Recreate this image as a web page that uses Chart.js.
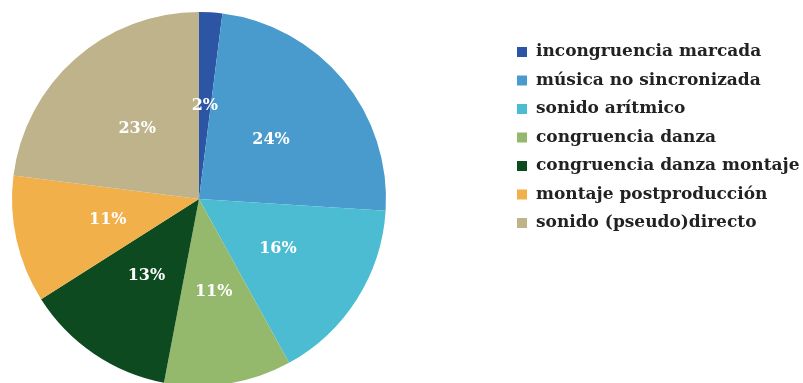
<!DOCTYPE html>
<html>
<head>
<meta charset="utf-8">
<script src="https://cdn.jsdelivr.net/npm/chart.js@4/dist/chart.umd.min.js"></script>
<style>
  html, body { margin: 0; padding: 0; background: #fff; overflow: hidden; }
  #wrap { width: 803px; height: 392px; }
</style>
</head>
<body>
<div id="wrap"><canvas id="pieChart"></canvas></div>
<script>
// categorías y porcentajes
const categories = [
    'incongruencia marcada',
    'música no sincronizada',
    'sonido arítmico',
    'congruencia danza',
    'congruencia danza montaje',
    'montaje postproducción',
    'sonido (pseudo)directo'
];
const percentages = [2, 24, 16, 11, 13, 11, 23];
const sliceColors = ['#2c55a6', '#4a9bcd', '#4bbcd2', '#95b96c', '#0e4a20', '#f2b04b', '#beb38a'];

const serif = '"DejaVu Serif", "Liberation Serif", serif';

// etiquetas de porcentaje dentro de cada sector
const sliceLabels = {
    id: 'sliceLabels',
    afterDatasetsDraw(chart) {
        const c = chart.ctx;
        const meta = chart.getDatasetMeta(0);
        c.save();
        c.font = 'bold 16px ' + serif;
        c.fillStyle = '#ffffff';
        c.textAlign = 'center';
        c.textBaseline = 'middle';
        meta.data.forEach((arc, i) => {
            const p = arc.tooltipPosition();
            c.fillText(percentages[i] + '%', p.x, p.y);
        });
        c.restore();
    }
};

// leyenda a la derecha, con los elementos que genera Chart.js
const sideLegend = {
    id: 'sideLegend',
    afterDraw(chart) {
        const c = chart.ctx;
        const items = chart.options.plugins.legend.labels.generateLabels(chart);
        c.save();
        c.font = 'bold 17px ' + serif;
        c.textBaseline = 'middle';
        c.textAlign = 'left';
        items.forEach((item, i) => {
            const y = 52 + i * 28.5;
            c.fillStyle = item.fillStyle;
            c.fillRect(517, y - 5, 10, 10);
            c.fillStyle = '#222222';
            c.fillText(item.text, 536, y);
        });
        c.restore();
    }
};

new Chart(document.getElementById('pieChart'), {
    type: 'pie',
    data: {
        labels: categories,
        datasets: [{
            data: percentages,
            backgroundColor: sliceColors,
            borderWidth: 0
        }]
    },
    options: {
        responsive: true,
        maintainAspectRatio: false,
        animation: false,
        layout: { padding: { top: 12, left: 12, right: 417, bottom: 6 } },
        plugins: {
            legend: { display: false },
            tooltip: { enabled: false }
        }
    },
    plugins: [sliceLabels, sideLegend]
});
</script>
</body>
</html>
